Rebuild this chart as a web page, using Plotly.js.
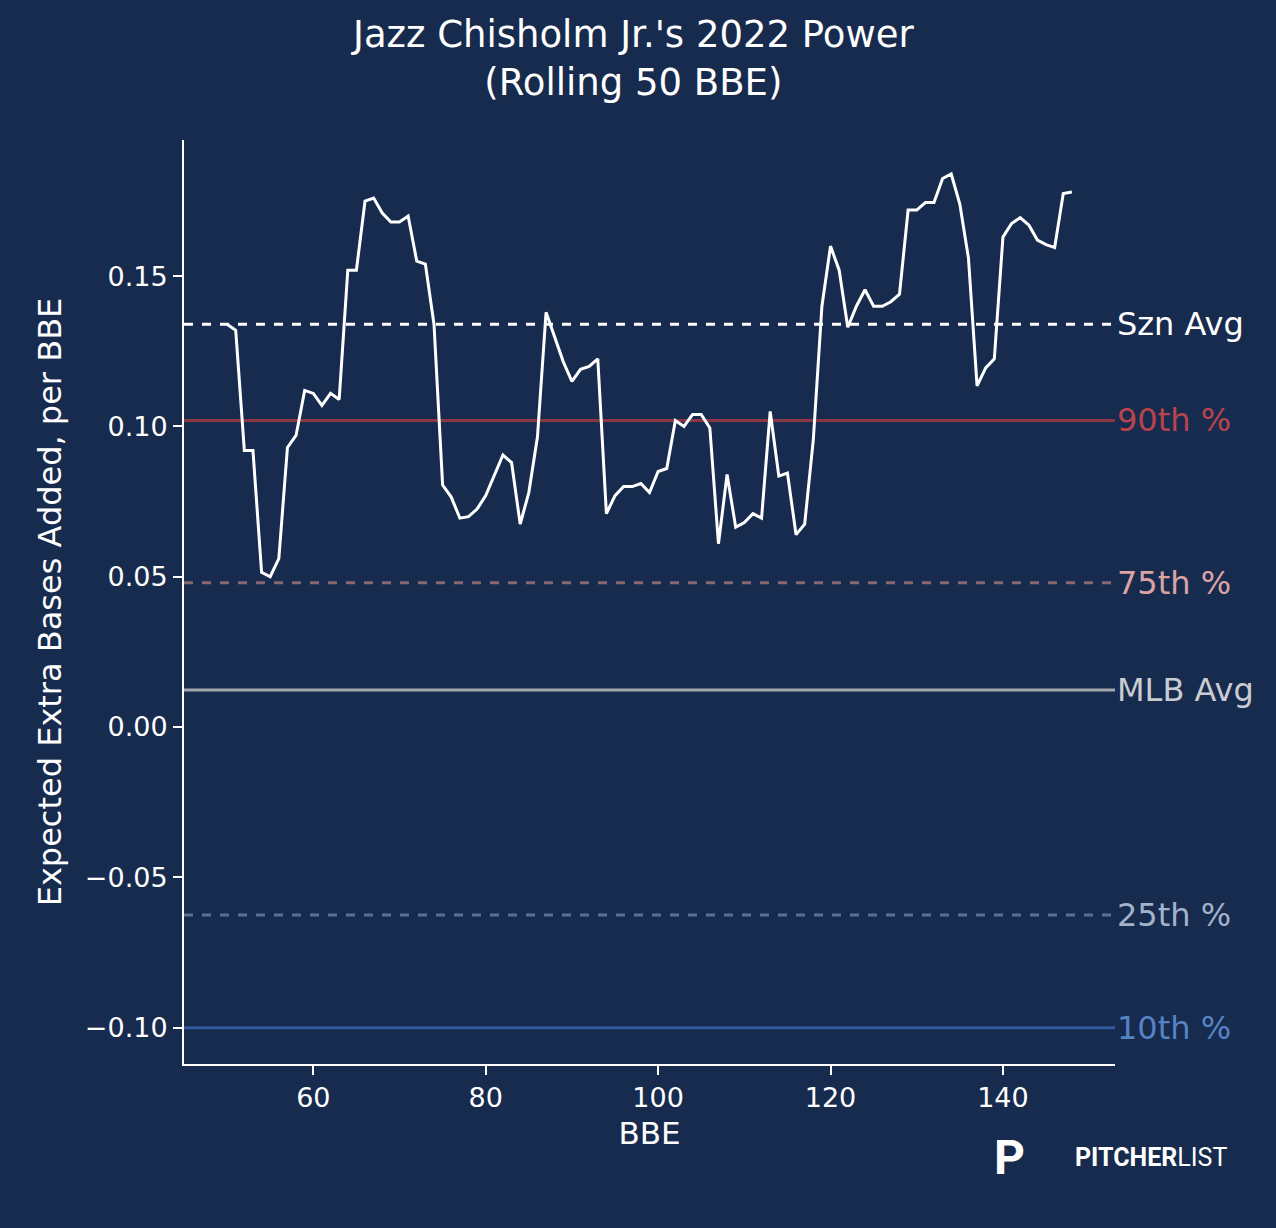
<!DOCTYPE html>
<html><head><meta charset="utf-8">
<script src="https://cdn.plot.ly/plotly-3.0.1.min.js"></script>
<style>html,body{margin:0;padding:0;background:#172b4e;}</style>
</head><body><div id="chart" style="width:1276px;height:1228px;"></div>
<script>
const bbe = [];
for (let i = 50; i <= 148; i++) bbe.push(i);
const rolling = [0.134,0.132,0.092,0.092,0.0515,0.050,0.056,0.093,0.097,0.112,
0.111,0.107,0.111,0.109,0.152,0.152,0.175,0.176,0.171,0.168,
0.168,0.170,0.155,0.154,0.134,0.0805,0.0765,0.0695,0.070,0.0725,
0.077,0.0835,0.0905,0.088,0.0675,0.078,0.0965,0.138,0.130,0.1215,
0.115,0.119,0.120,0.1225,0.071,0.077,0.080,0.080,0.081,0.078,
0.085,0.086,0.102,0.100,0.104,0.104,0.0995,0.061,0.084,0.0665,
0.068,0.071,0.0695,0.105,0.0835,0.0845,0.064,0.0675,0.0955,0.140,
0.160,0.152,0.133,0.140,0.1455,0.140,0.140,0.1415,0.144,0.172,
0.172,0.1745,0.1745,0.1825,0.184,0.174,0.156,0.1135,0.1195,0.1225,
0.163,0.1675,0.1695,0.167,0.162,0.1605,0.1595,0.1775,0.178];
const refNames = ["Szn Avg","90th %","75th %","MLB Avg","25th %","10th %"];
const refValues = [0.134,0.102,0.048,0.0123,-0.0625,-0.100];
const refLine = ["#ffffff","#8b3643","#8a6873","#a3a7ae","#5b7092","#2e5a9f"];
const refText = ["#ffffff","#b8434d","#dca3a3","#c9ccd2","#a3b3cb","#5683c4"];
const refDash = ["dash","solid","dash","solid","dash","solid"];
const titleText = "Jazz Chisholm Jr.'s 2022 Power<br>(Rolling 50 BBE)";

const font = "DejaVu Sans, sans-serif";
const traces = [{x:bbe,y:rolling,type:"scatter",mode:"lines",line:{color:"#ffffff",width:3},hoverinfo:"skip"}];
const shapes = [], annotations = [];
refValues.forEach((v,i)=>{
  shapes.push({type:"line",xref:"paper",yref:"y",x0:0,x1:1,y0:v,y1:v,layer:"below",
    line:{color:refLine[i],width:3,dash:refDash[i]}});
  annotations.push({xref:"paper",yref:"y",x:1,y:v,xanchor:"left",yanchor:"middle",showarrow:false,
    text:refNames[i],font:{family:font,size:32,color:refText[i]}});
});
annotations.push({xref:"paper",yref:"paper",x:0.482,y:1.0877,xanchor:"center",yanchor:"middle",showarrow:false,
  text:titleText,font:{family:font,size:37,color:"#ffffff"}});
annotations.push({xref:"paper",yref:"paper",x:1.1225,y:-0.101,xanchor:"right",yanchor:"middle",showarrow:false,
  text:"<b>PITCHER</b>LIST",font:{family:"Roboto, sans-serif",size:25,color:"#ffffff"}});
annotations.push({xref:"paper",yref:"paper",x:0.905,y:-0.101,xanchor:"right",yanchor:"middle",showarrow:false,
  text:"<b>P</b>",font:{family:"Roboto, sans-serif",size:48,color:"#ffffff"}});

Plotly.newPlot("chart",traces,{
  width:1276,height:1228,paper_bgcolor:"#172b4e",plot_bgcolor:"#172b4e",
  margin:{l:184,r:161,t:140,b:164},showlegend:false,
  font:{family:font,color:"#ffffff"},
  xaxis:{range:[45,153],tickvals:[60,80,100,120,140],showgrid:false,zeroline:false,showline:true,linecolor:"#ffffff",linewidth:2,
    ticks:"outside",ticklen:9,tickwidth:2,tickcolor:"#ffffff",tickfont:{size:27,family:font,color:"#ffffff"},
    title:{text:"BBE",font:{size:31,family:font,color:"#ffffff"},standoff:10}},
  yaxis:{range:[-0.1121,0.1953],tickvals:[-0.10,-0.05,0,0.05,0.10,0.15],
    ticktext:["\u22120.10","\u22120.05","0.00","0.05","0.10","0.15"],
    showgrid:false,zeroline:false,showline:true,linecolor:"#ffffff",linewidth:2,
    ticks:"outside",ticklen:9,tickwidth:2,tickcolor:"#ffffff",tickfont:{size:27,family:font,color:"#ffffff"},
    title:{text:"Expected Extra Bases Added, per BBE",font:{size:32,family:font,color:"#ffffff"},standoff:14}},
  shapes:shapes,annotations:annotations
},{displayModeBar:false,staticPlot:true});
</script></body></html>
